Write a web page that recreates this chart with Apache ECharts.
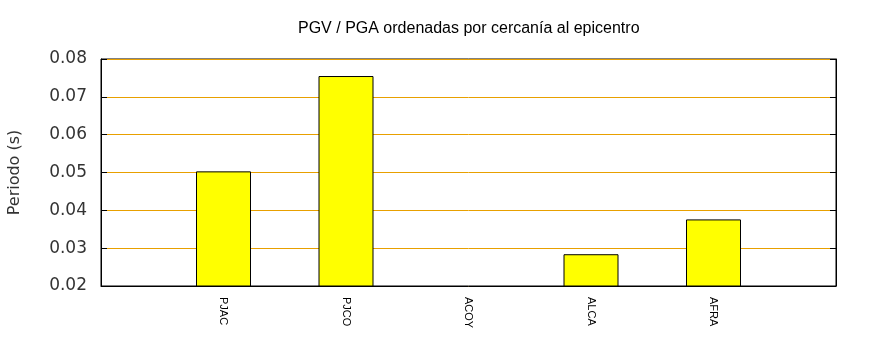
<!DOCTYPE html>
<html>
<head>
<meta charset="utf-8">
<script src="https://cdn.jsdelivr.net/npm/echarts@6/dist/echarts.min.js"></script>
<style>
  html, body { margin: 0; padding: 0; background: #fff; }
  #chart { width: 870px; height: 350px; }
</style>
</head>
<body>
<div id="chart"></div>
<script>
// estaciones ordenadas por cercania, posicion 1..5 en el eje
const stations = ['PJAC', 'PJCO', 'ACOY', 'ALCA', 'AFRA']
const positions = [1, 2, 3, 4, 5]
const periods = [0.0503, 0.0755, null, 0.0284, 0.0376]
const yTicks = [0.02, 0.03, 0.04, 0.05, 0.06, 0.07, 0.08]

const points = positions.map((p, i) => [p, periods[i]])

const mycharts = echarts.init(document.getElementById('chart'))
mycharts.setOption({
  animation: false,
  title: {
    text: 'PGV / PGA ordenadas por cercanía al epicentro',
    left: 293,
    top: 16,
    textStyle: {
      fontFamily: 'Liberation Sans',
      fontSize: 16,
      fontWeight: 'normal',
      color: '#000'
    }
  },
  grid: {
    left: 101,
    right: 34,
    top: 59,
    bottom: 64,
    outerBoundsMode: 'none',
    show: true,
    borderColor: '#000',
    borderWidth: 1
  },
  xAxis: {
    type: 'value',
    min: 0,
    max: 6,
    interval: 1,
    splitLine: { show: false },
    axisTick: { show: false },
    axisLine: { show: true, lineStyle: { color: '#000' } },
    axisLabel: {
      rotate: -90,
      margin: 11,
      fontFamily: 'Liberation Sans',
      fontSize: 11,
      color: '#000',
      formatter: function (v) {
        const i = positions.indexOf(v)
        return i >= 0 ? stations[i] : ''
      }
    }
  },
  yAxis: [
    {
      type: 'value',
      min: yTicks[0],
      max: yTicks[yTicks.length - 1],
      interval: 0.01,
      name: 'Periodo (s)',
      nameLocation: 'middle',
      nameGap: 78,
      nameTextStyle: { fontFamily: 'DejaVu Sans', fontSize: 16, color: '#333' },
      axisLine: { show: true, lineStyle: { color: '#000' } },
      axisTick: { show: true, inside: true, length: 6, lineStyle: { color: '#000' } },
      axisLabel: {
        margin: 14,
        fontFamily: 'DejaVu Sans',
        fontSize: 17,
        color: '#333',
        formatter: v => v.toFixed(2)
      },
      splitLine: { show: true, lineStyle: { color: '#e8a000', width: 1 } }
    },
    {
      type: 'value',
      position: 'right',
      min: yTicks[0],
      max: yTicks[yTicks.length - 1],
      interval: 0.01,
      axisLine: { show: true, lineStyle: { color: '#000' } },
      axisTick: { show: true, inside: true, length: 6, lineStyle: { color: '#000' } },
      axisLabel: { show: false },
      splitLine: { show: false }
    }
  ],
  series: [
    {
      type: 'bar',
      data: points,
      barWidth: 55,
      itemStyle: {
        color: '#ffff00',
        borderColor: '#000',
        borderWidth: 1
      }
    }
  ]
})
</script>
</body>
</html>
